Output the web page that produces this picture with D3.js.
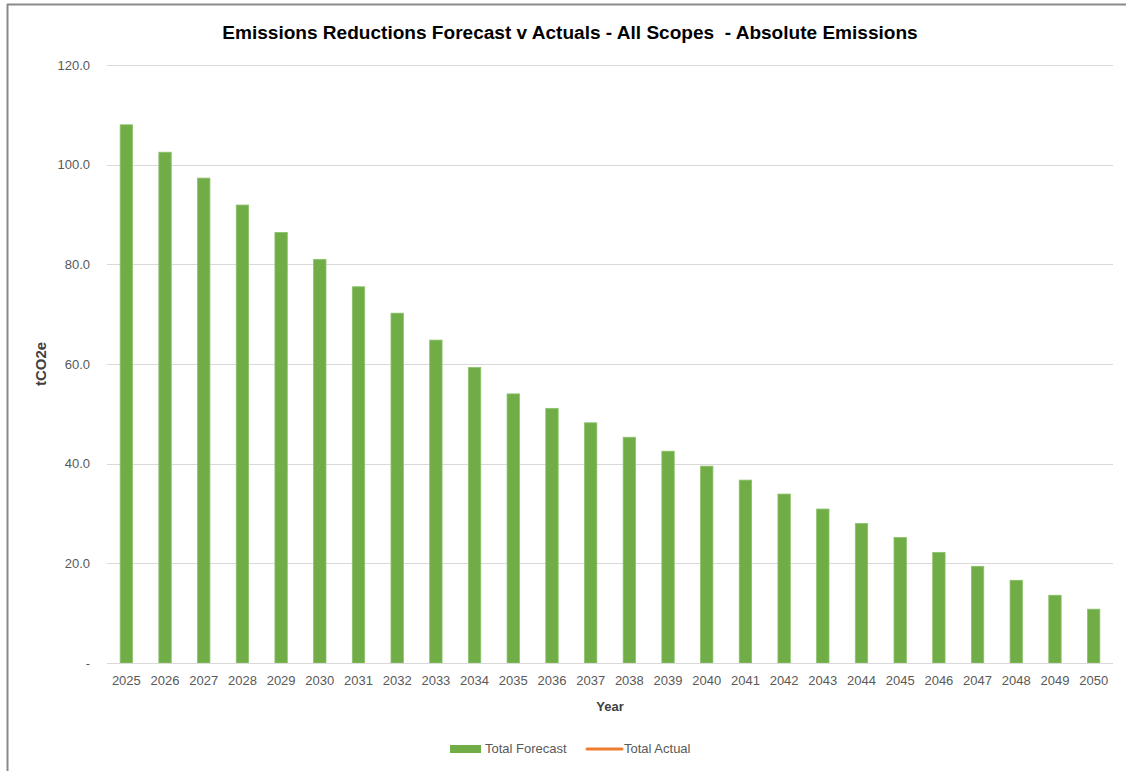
<!DOCTYPE html>
<html>
<head>
<meta charset="utf-8">
<script src="https://cdn.jsdelivr.net/npm/d3@7"></script>
<style>
  html, body { margin: 0; padding: 0; background: #fff; }
  svg { display: block; font-family: "Liberation Sans", Arial, sans-serif; }
</style>
</head>
<body>
<svg id="chart" width="1126" height="771"></svg>
<script>
// Forecast emissions by year (tCO2e)
const years = ["2025","2026","2027","2028","2029","2030","2031","2032","2033","2034","2035","2036","2037",
               "2038","2039","2040","2041","2042","2043","2044","2045","2046","2047","2048","2049","2050"];
const totalForecast = [108.0, 102.5, 97.3, 91.9, 86.4, 81.0, 75.5, 70.2, 64.8, 59.3, 54.0, 51.1, 48.2,
                       45.3, 42.5, 39.5, 36.7, 33.9, 30.9, 28.0, 25.2, 22.2, 19.4, 16.6, 13.6, 10.8];
// Actuals not yet recorded
const totalActual = [];
const yTicks = [0, 20, 40, 60, 80, 100, 120];
const titleText = "Emissions Reductions Forecast v Actuals - All Scopes  - Absolute Emissions";

const svg = d3.select("#chart");
const W = 1126, H = 771;
const plot = { left: 107, right: 1113, top: 65, bottom: 663 };

// outer frame (top and left edges visible)
svg.append("line").attr("x1", 7).attr("x2", W).attr("y1", 4.5).attr("y2", 4.5)
  .attr("stroke", "#8a8a8a").attr("stroke-width", 2);
svg.append("line").attr("x1", 7.5).attr("x2", 7.5).attr("y1", 4).attr("y2", H)
  .attr("stroke", "#8a8a8a").attr("stroke-width", 2);

const x = d3.scaleBand().domain(years).range([plot.left, plot.right]).paddingInner(0.68).paddingOuter(0.34);
const y = d3.scaleLinear().domain([0, 120]).range([plot.bottom, plot.top]);

// gridlines + y labels
const yAxis = d3.axisLeft(y).tickValues(yTicks).tickSize(0).tickPadding(17)
  .tickFormat(d => d === 0 ? "-" : d3.format(".1f")(d));
const gy = svg.append("g").attr("transform", `translate(${plot.left},0)`).call(yAxis);
gy.select(".domain").remove();
gy.selectAll("text").attr("fill", "#595959").style("font-size", "13px");
svg.append("g").selectAll("line").data(yTicks.filter(d => d > 0)).join("line")
  .attr("x1", plot.left).attr("x2", plot.right)
  .attr("y1", d => Math.round(y(d)) + 0.5).attr("y2", d => Math.round(y(d)) + 0.5)
  .attr("stroke", "#d9d9d9").attr("stroke-width", 1);

// bars
svg.append("g").selectAll("rect").data(years).join("rect")
  .attr("x", d => x(d))
  .attr("width", x.bandwidth())
  .attr("y", (d, i) => y(totalForecast[i]))
  .attr("height", (d, i) => y(0) - y(totalForecast[i]))
  .attr("fill", "#70AD47")
  .attr("stroke", "#8cc26a").attr("stroke-width", 0.8);

// actual line (no data yet)
const line = d3.line().x(d => x(d.year) + x.bandwidth() / 2).y(d => y(d.value));
svg.append("path").datum(totalActual).attr("d", line).attr("fill", "none")
  .attr("stroke", "#ED7D31").attr("stroke-width", 3);

// x axis
const xAxis = d3.axisBottom(x).tickSize(0).tickPadding(13);
const gx = svg.append("g").attr("transform", `translate(0,${plot.bottom})`).call(xAxis);
gx.select(".domain").attr("stroke", "#d9d9d9").attr("d", `M${plot.left},0.5H${plot.right}`);
gx.selectAll("text").attr("fill", "#595959").style("font-size", "13px");

// title
const title = svg.append("text").attr("x", 570).attr("y", 39).attr("text-anchor", "middle")
  .attr("font-weight", "bold").attr("fill", "#000").style("font-size", "18px")
  .style("white-space", "pre").text(titleText);
const tw = title.node().getComputedTextLength();
if (tw > 0) title.style("font-size", (18 * 696 / tw).toFixed(2) + "px");

// axis titles
svg.append("text").attr("transform", "translate(46,364) rotate(-90)").attr("text-anchor", "middle")
  .attr("font-weight", "bold").attr("fill", "#404040").style("font-size", "15px").text("tCO2e");
svg.append("text").attr("x", 610).attr("y", 711).attr("text-anchor", "middle")
  .attr("font-weight", "bold").attr("fill", "#404040").style("font-size", "13px").text("Year");

// legend
const lg = svg.append("g");
lg.append("rect").attr("x", 450).attr("y", 745).attr("width", 31).attr("height", 8).attr("fill", "#70AD47");
lg.append("text").attr("x", 485).attr("y", 753).attr("fill", "#595959").style("font-size", "13px").text("Total Forecast");
lg.append("line").attr("x1", 587).attr("x2", 622).attr("y1", 749).attr("y2", 749)
  .attr("stroke", "#ED7D31").attr("stroke-width", 3).attr("stroke-linecap", "round");
lg.append("text").attr("x", 624).attr("y", 753).attr("fill", "#595959").style("font-size", "13px").text("Total Actual");
</script>
</body>
</html>
